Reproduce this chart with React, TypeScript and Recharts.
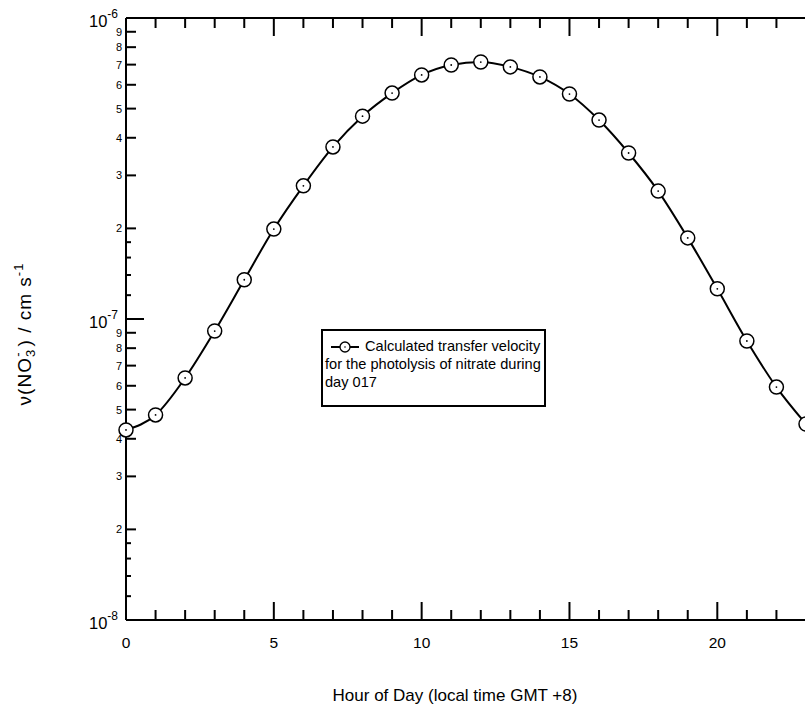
import { LineChart, Line, XAxis, YAxis, Legend } from 'recharts';

// hour of day (local time GMT +8)
const hours = [0, 1, 2, 3, 4, 5, 6, 7, 8, 9, 10, 11, 12, 13, 14, 15, 16, 17, 18, 19, 20, 21, 22, 23];
// transfer velocity, cm s-1
const velocity = [
  4.28e-8, 4.8e-8, 6.37e-8, 9.12e-8, 1.35e-7, 1.99e-7, 2.77e-7, 3.73e-7,
  4.72e-7, 5.63e-7, 6.47e-7, 6.98e-7, 7.14e-7, 6.88e-7, 6.37e-7, 5.59e-7,
  4.58e-7, 3.56e-7, 2.66e-7, 1.86e-7, 1.26e-7, 8.45e-8, 5.94e-8, 4.48e-8,
];

const xTicks = hours;
const xLabels = [0, 5, 10, 15, 20];
const mantissas = [1, 1.2, 1.4, 1.6, 1.8, 2, 3, 4, 5, 6, 7, 8, 9];
const decades = [-8, -7];
const yTicks = [...decades.flatMap((d) => mantissas.map((m) => m * Math.pow(10, d))), 1e-6];

const legendLines = ['Calculated transfer velocity', 'for the photolysis of nitrate during', 'day 017'];

const font = "'Liberation Sans', Arial, sans-serif";

const data = hours.map((h, i) => ({ hour: h, v: velocity[i] }));

const tickInfo = (v: number) => {
  const e = Math.floor(Math.log10(v) + 1e-9);
  const m = Math.round((v / Math.pow(10, e)) * 10) / 10;
  return { e, m };
};

const tickLen = (m: number) => (m === 1 ? 18 : Number.isInteger(m) ? 10 : 5);

const LeftTick = ({ x, y, payload }: any) => {
  const { e, m } = tickInfo(payload.value);
  const len = tickLen(m);
  return (
    <g>
      <line x1={x} x2={x + len} y1={y} y2={y} stroke="#000" strokeWidth={2} />
      {m === 1 ? (
        <text x={x - 8} y={y + 9} textAnchor="end" fontSize={16.5} fontFamily={font} fill="#000">
          10<tspan dy={-9} fontSize={12}>{e}</tspan>
        </text>
      ) : Number.isInteger(m) ? (
        <text x={x - 4} y={y + 4} textAnchor="end" fontSize={11} fontFamily={font} fill="#000">
          {m}
        </text>
      ) : null}
    </g>
  );
};

const RightTick = ({ x, y, payload }: any) => {
  const { m } = tickInfo(payload.value);
  const len = tickLen(m);
  return <line x1={x - len} x2={x} y1={y} y2={y} stroke="#000" strokeWidth={2} />;
};

const BottomTick = ({ x, y, payload }: any) => {
  const major = payload.value % 5 === 0;
  return (
    <g>
      <line x1={x} x2={x} y1={y} y2={y - (major ? 18 : 10)} stroke="#000" strokeWidth={2} />
      {xLabels.includes(payload.value) && (
        <text x={x} y={y + 28} textAnchor="middle" fontSize={15.5} fontFamily={font} fill="#000">
          {payload.value}
        </text>
      )}
    </g>
  );
};

const TopTick = ({ x, y, payload }: any) => {
  const major = payload.value % 5 === 0;
  return <line x1={x} x2={x} y1={y} y2={y + (major ? 18 : 10)} stroke="#000" strokeWidth={2} />;
};

const Dot = ({ cx, cy, index }: any) => (
  <g key={index}>
    <circle cx={cx} cy={cy} r={7} fill="#fff" stroke="#000" strokeWidth={1.5} />
    <circle cx={cx} cy={cy} r={0.9} fill="#000" />
  </g>
);

const LegendBox = () => (
  <div
    style={{
      width: 225,
      height: 78,
      boxSizing: 'border-box',
      border: '2px solid #000',
      background: '#fff',
      padding: '6px 2px',
      fontFamily: font,
      fontSize: 14.6,
      lineHeight: '18px',
      color: '#000',
      whiteSpace: 'nowrap',
    }}
  >
    <div>
      <svg width={30} height={12} style={{ verticalAlign: 'middle', marginLeft: 5, marginRight: 5 }}>
        <line x1={1} x2={29} y1={6} y2={6} stroke="#000" strokeWidth={2} />
        <circle cx={15} cy={6} r={5} fill="#fff" stroke="#000" strokeWidth={1.3} />
        <circle cx={15} cy={6} r={0.8} fill="#000" />
      </svg>
      {legendLines[0]}
    </div>
    <div>{legendLines[1]}</div>
    <div>{legendLines[2]}</div>
  </div>
);

const XLabel = () => (
  <text x={455} y={701} textAnchor="middle" fontSize={17} fontFamily={font} fill="#000">
    Hour of Day (local time GMT +8)
  </text>
);

const YLabel = () => (
  <text
    x={0}
    y={0}
    transform="translate(31, 334) rotate(-90)"
    textAnchor="middle"
    fontSize={19}
    letterSpacing={1}
    fontFamily={font}
    fill="#000"
  >
    ν(NO<tspan dy={4} fontSize={13}>3</tspan>
    <tspan dx={-8} dy={-13} fontSize={13}>-</tspan>
    <tspan dx={5} dy={9}>) / cm s</tspan>
    <tspan dy={-8} fontSize={13}>-1</tspan>
  </text>
);

export default function App() {
  return (
    <div style={{ position: 'absolute', left: 0, top: 0, width: 805, height: 708, overflow: 'hidden', background: '#fff' }}>
      <LineChart width={820} height={708} data={data} margin={{ top: 8, right: 4, bottom: 28, left: 66 }}>
        <XAxis
          xAxisId="bottom"
          dataKey="hour"
          type="number"
          domain={[0, 23]}
          ticks={xTicks}
          interval={0}
          tickSize={0}
          tickMargin={0}
          tickLine={false}
          tick={<BottomTick />}
          axisLine={{ stroke: '#000', strokeWidth: 2 }}
          height={60}
          label={<XLabel />}
        />
        <XAxis
          xAxisId="top"
          orientation="top"
          dataKey="hour"
          type="number"
          domain={[0, 23]}
          ticks={xTicks}
          interval={0}
          tickSize={0}
          tickMargin={0}
          tickLine={false}
          tick={<TopTick />}
          axisLine={{ stroke: '#000', strokeWidth: 2 }}
          height={10}
        />
        <YAxis
          yAxisId="left"
          scale="log"
          type="number"
          domain={[1e-8, 1e-6]}
          ticks={yTicks}
          interval={0}
          tickSize={0}
          tickMargin={0}
          tickLine={false}
          tick={<LeftTick />}
          axisLine={{ stroke: '#000', strokeWidth: 2 }}
          width={60}
          label={<YLabel />}
        />
        <YAxis
          yAxisId="right"
          orientation="right"
          scale="log"
          type="number"
          domain={[1e-8, 1e-6]}
          ticks={yTicks}
          interval={0}
          tickSize={0}
          tickMargin={0}
          tickLine={false}
          tick={<RightTick />}
          axisLine={{ stroke: '#000', strokeWidth: 2 }}
          width={10}
        />
        <Legend
          layout="horizontal"
          verticalAlign="middle"
          align="center"
          wrapperStyle={{ left: 321, top: 329, width: 225 }}
          content={() => <LegendBox />}
        />
        <Line
          xAxisId="bottom"
          yAxisId="left"
          dataKey="v"
          type="monotone"
          stroke="#000"
          strokeWidth={2}
          dot={<Dot />}
          activeDot={false}
          isAnimationActive={false}
        />
      </LineChart>
    </div>
  );
}
